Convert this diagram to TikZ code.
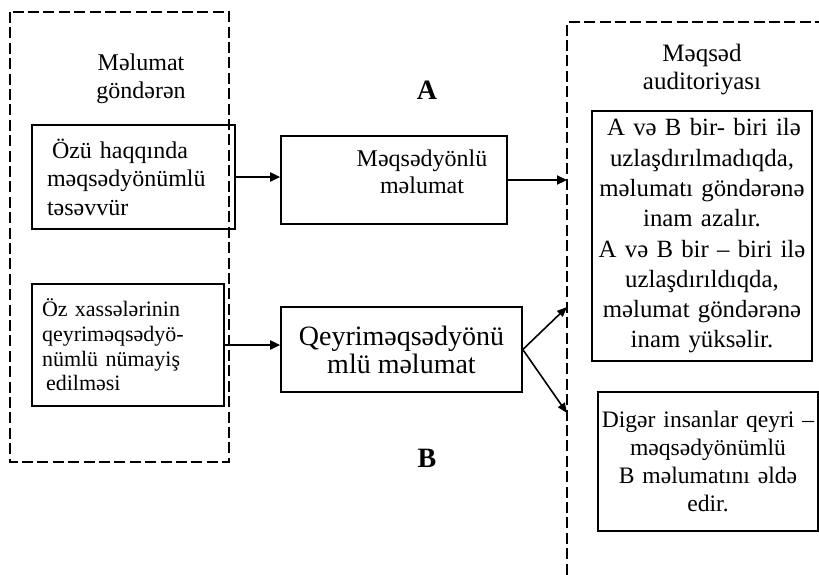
\documentclass[tikz,border=0pt]{standalone}
\usepackage{fontspec}
\setmainfont{Liberation Serif}
\usetikzlibrary{arrows.meta}

\begin{document}
\begin{tikzpicture}[x=0.5pt,y=-0.5pt,
  box/.style={draw, line width=0.8pt, inner sep=0pt, align=center},
  frame/.style={line width=1.4pt, dash pattern=on 5.5pt off 2.2pt},
  link/.style={line width=1.1pt, -{Triangle[length=5pt,width=4.5pt]}},
  thinlink/.style={line width=0.8pt, -{Triangle[length=5pt,width=4pt]}},
  caption/.style={inner sep=0pt, align=center},
  letter/.style={inner sep=0pt, font=\bfseries\fontsize{14}{14}\selectfont}]
\useasboundingbox (0,0) rectangle (819,574);
\clip (0,0) rectangle (819,574);

% dashed frames: sender (left) and audience (right, open to the edges)
\draw[frame] (10,12) rectangle (229,462);
\coordinate (audTop) at (567,22);
\draw[frame] (567,590) -- (audTop) -- (840,22);

% frame captions
\node[caption, font=\fontsize{12}{14.2}\selectfont] (sender) at (141,79) {Məlumat\\göndərən};
\node[caption, font=\fontsize{12.5}{14}\selectfont] (audience) at (702,70) {Məqsəd\\auditoriyası};

% sender side
\node[box, align=left, text width=86.5pt, inner xsep=7.5pt, minimum height=52pt,
      font=\fontsize{12}{14.25}\selectfont] (self) at (133.5,177)
      {\hspace{2.5pt}Özü haqqında\\məqsədyönümlü\\təsəvvür};
\node[box, align=left, text width=86pt, inner xsep=5pt, minimum height=61pt,
      font=\fontsize{11}{12.3}\selectfont] (traits) at (128,345)
      {Öz xassələrinin\\qeyriməqsədyö-\\nümlü nümayiş\\\hspace{2pt}edilməsi};

% messages
\node[box, minimum width=113pt, minimum height=44pt] (purp) at (394,180) {};
\node[caption, font=\fontsize{12}{13.5}\selectfont] (purptext) at (422,171.5) {Məqsədyönlü\\məlumat};
\node[box, minimum width=120.5pt, minimum height=42.5pt,
      font=\fontsize{14}{14}\selectfont] (nonpurp) at (401.5,349.5)
      {Qeyriməqsədyönü\\mlü məlumat};

% channel labels
\node[letter] (A) at (427,90) {A};
\node[letter] (B) at (427,458) {B};

% audience side
\node[box, text width=110pt, minimum height=125pt,
      font=\fontsize{12.4}{15.15}\selectfont] (trust) at (702,236)
      {\hspace{2pt}A və B bir- biri ilə\\uzlaşdırılmadıqda,\\məlumatı göndərənə\\inam azalır.\\A və B bir – biri ilə\\uzlaşdırıldıqda,\\məlumat göndərənə\\inam yüksəlir.};
\node[box, text width=110pt, minimum height=69.5pt,
      font=\fontsize{11.8}{13.85}\selectfont] (others) at (708,461.5)
      {Digər insanlar qeyri –\\məqsədyönümlü\\B məlumatını əldə\\edir.};

% connectors
\coordinate (upHit) at (567,307);
\coordinate (downHit) at (567,413);
\draw[link] (self.east) -- (self.east -| purp.west);
\draw[link] (purp.east) -- (purp.east -| audTop);
\draw[link] (traits.east) -- (traits.east -| nonpurp.west);
\draw[thinlink] (nonpurp.east) -- (upHit);
\draw[thinlink] (nonpurp.east) -- (downHit);
\end{tikzpicture}
\end{document}
